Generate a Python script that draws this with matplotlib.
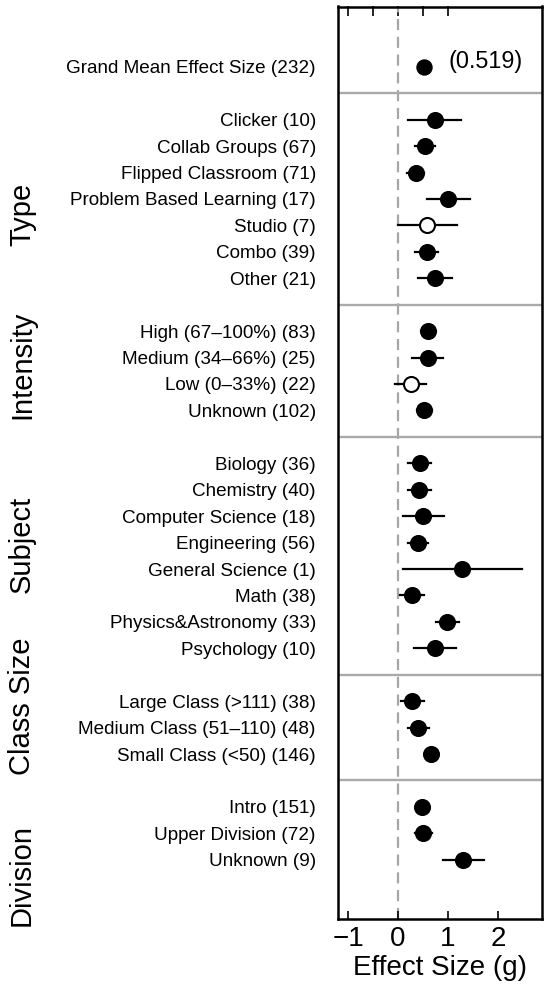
import matplotlib.pyplot as plt
from matplotlib import transforms

plt.rcParams['font.family'] = ['Liberation Sans', 'DejaVu Sans']

# grand mean
grand_label = 'Grand Mean Effect Size (232)'
grand_mean = 0.519

# moderator groups
group_names = ['Type', 'Intensity', 'Subject', 'Class Size', 'Division']
group_labels = [
    ['Clicker (10)', 'Collab Groups (67)', 'Flipped Classroom (71)',
     'Problem Based Learning (17)', 'Studio (7)', 'Combo (39)', 'Other (21)'],
    ['High (67\u2013100%) (83)', 'Medium (34\u201366%) (25)', 'Low (0\u201333%) (22)',
     'Unknown (102)'],
    ['Biology (36)', 'Chemistry (40)', 'Computer Science (18)', 'Engineering (56)',
     'General Science (1)', 'Math (38)', 'Physics&Astronomy (33)', 'Psychology (10)'],
    ['Large Class (>111) (38)', 'Medium Class (51\u2013110) (48)',
     'Small Class (<50) (146)'],
    ['Intro (151)', 'Upper Division (72)', 'Unknown (9)'],
]
group_means = [
    [0.73, 0.53, 0.35, 1.00, 0.58, 0.57, 0.73],
    [0.59, 0.59, 0.25, 0.51],
    [0.43, 0.42, 0.50, 0.39, 1.28, 0.28, 0.98, 0.73],
    [0.28, 0.40, 0.65],
    [0.47, 0.49, 1.30],
]
group_lows = [
    [0.20, 0.33, 0.17, 0.57, -0.01, 0.33, 0.39],
    [0.45, 0.27, -0.06, 0.37],
    [0.20, 0.20, 0.09, 0.19, 0.09, 0.03, 0.75, 0.32],
    [0.05, 0.19, 0.57],
    [0.38, 0.33, 0.89],
]
group_highs = [
    [1.25, 0.73, 0.52, 1.43, 1.18, 0.80, 1.08],
    [0.75, 0.90, 0.56, 0.67],
    [0.65, 0.65, 0.91, 0.59, 2.47, 0.52, 1.21, 1.15],
    [0.51, 0.62, 0.73],
    [0.56, 0.67, 1.72],
]
# False = not significant (open circle)
group_signif = [
    [True, True, True, True, False, True, True],
    [True, True, False, True],
    [True] * 8,
    [True] * 3,
    [True] * 3,
]
# vertical position of the rotated group titles (row units)
group_title_rows = [5.57, 11.28, 18.05, 24.18, 30.57]

fig = plt.figure(figsize=(5.5, 9.96), dpi=100)
ax = fig.add_axes([338 / 550, 1 - 919 / 996, 204 / 550, 912.5 / 996])

ax.axvline(0, color='#a6a6a6', linestyle=(0, (5, 3)), linewidth=1.6, zorder=1)

rows, labels = [0], [grand_label]
ax.plot(grand_mean, 0, 'o', color='black', markersize=10.8, zorder=3)
ax.text(1.0, -0.19, '(%.3f)' % grand_mean, fontsize=16.8, va='center', ha='left')

r = 0
for names, means, lows, highs, sig in zip(group_labels, group_means, group_lows,
                                           group_highs, group_signif):
    r += 1
    ax.axhline(r, color='#aaaaaa', linewidth=1.7, zorder=1)
    for name, m, lo, hi, s in zip(names, means, lows, highs, sig):
        r += 1
        rows.append(r)
        labels.append(name)
        ax.plot([lo, hi], [r, r], color='black', linewidth=1.6, zorder=2)
        ax.plot(m, r, 'o', markersize=10.8, markeredgewidth=1.5,
                markerfacecolor='black' if s else 'white',
                markeredgecolor='black', zorder=3)

ax.set_xlim(-1.2, 2.88)
ax.set_ylim(32.24, -2.28)

ax.set_yticks(rows)
ax.set_yticklabels(labels, fontsize=13.6)
ax.tick_params(axis='y', length=0, pad=16)

ax.set_xticks([-1, 0, 1, 2])
ax.set_xticklabels(['\u22121', '0', '1', '2'], fontsize=20)
ax.tick_params(axis='x', direction='in', length=6, width=1.2, pad=5)
top = ax.secondary_xaxis('top')
top.set_xticks([-1, -0.5, 0, 0.5, 1])
top.set_xticklabels([])
top.tick_params(direction='in', length=7, width=1.2)
top.spines['top'].set_visible(False)
ax.set_xlabel('Effect Size (g)', fontsize=20, labelpad=2)

for sp in ax.spines.values():
    sp.set_linewidth(1.8)

trans = transforms.blended_transform_factory(fig.transFigure, ax.transData)
for name, yr in zip(group_names, group_title_rows):
    ax.text(22 / 550, yr, name, transform=trans, rotation=90, fontsize=21,
            ha='center', va='center')

fig.savefig('out.png', dpi=100)
